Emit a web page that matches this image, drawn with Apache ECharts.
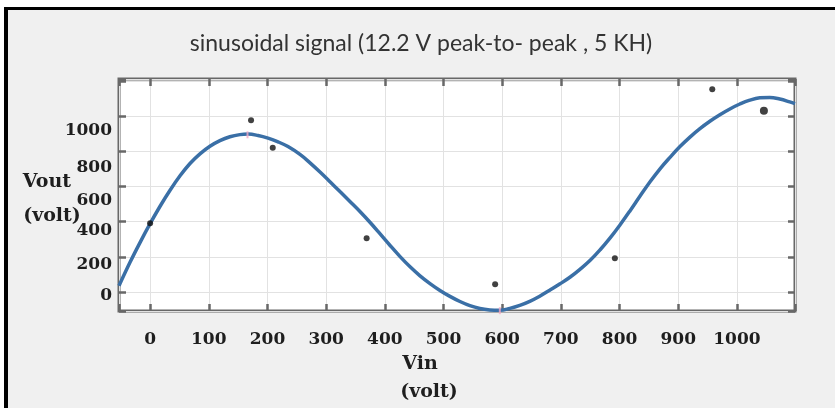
<!DOCTYPE html>
<html>
<head>
<meta charset="utf-8">
<title>sinusoidal signal</title>
<script src="https://cdn.jsdelivr.net/npm/echarts@6/dist/echarts.min.js"></script>
<style>
    html, body { margin: 0; padding: 0; background: #ffffff; }
    #chart { width: 835px; height: 408px; }
</style>
</head>
<body>
<div id="chart"></div>
<script>
// fitted curve
var curveVin = [-53, -34, -17, 0, 17, 34, 51, 68, 85, 102, 119, 136, 153, 167, 184, 201, 218, 235, 256, 273, 290, 307, 324,
    341, 358, 375, 392, 409, 426, 443, 460, 477, 494, 511, 528, 545, 562, 579, 596, 613, 630, 647, 664, 681, 698, 716,
    733, 750, 767, 784, 801, 818, 835, 852, 869, 886, 903, 920, 937, 954, 971, 988, 1005, 1022, 1039, 1056, 1073, 1090, 1099];
var curveVout = [35, 170, 282, 388, 487, 578, 660, 730, 785, 828, 860, 882, 894, 897, 889, 874, 853, 826, 780, 732, 680, 625, 569,
    513, 456, 395, 330, 264, 201, 143, 92, 48, 9, -25, -54, -78, -94, -102, -104, -93, -76, -53, -24, 10, 45, 85,
    130, 180, 240, 307, 382, 462, 545, 626, 700, 765, 826, 880, 928, 970, 1007, 1040, 1068, 1090, 1103, 1105, 1096, 1080, 1070];

// measured points
var pointVin = [0, 172, 209, 369, 588, 792, 958];
var pointVout = [390, 976, 819, 305, 44, 191, 1152];
var bigPointVin = [1046];
var bigPointVout = [1029];

// pink markers at the extremes
var markVin = [166, 596];
var markVout = [893, -106];

// y tick labels; in the picture they sit a little below their grid lines
var yTickLabels = ['0', '200', '400', '600', '800', '1000'];
var yLabelDrop = [4, 8, 9, 14, 16, 15];

var xMin = -53, xMax = 1099;
var yMin = -108, yMax = 1210;

var serif = 'DejaVu Serif';
var boxColor = '#686868';

/**
 * 把两个数组合成 [x, y] 点列
 */
function zip(xs, ys) {
    var out = [];
    for (var i = 0; i < xs.length; i++) {
        out.push([xs[i], ys[i]]);
    }
    return out;
}

function xLabel(v) {
    return (v >= 0 && v <= 1000 && v % 100 === 0) ? String(v) : '';
}

function yLabel(v) {
    var i = yTickLabels.indexOf(String(v));
    if (i < 0) {
        return '';
    }
    return '{d' + i + '|' + yTickLabels[i] + '}';
}

// 每个 y 标签一个 rich 样式，用上边距把文字往下推
var yRich = {};
for (var k = 0; k < yTickLabels.length; k++) {
    yRich['d' + k] = {
        fontFamily: serif, fontWeight: 'bold', fontSize: 17, color: '#1e1e1e',
        padding: [yLabelDrop[k] * 2, 0, 0, 0]
    };
}

var myChart = echarts.init(document.getElementById('chart'), null, {renderer: 'canvas'});

var tickStyle = {show: true, inside: true, length: 7, lineStyle: {color: boxColor, width: 2.5}};
var noLine = {show: false, onZero: false};

var option = {
    animation: false,
    backgroundColor: '#f0f0f0',
    grid: {
        left: 119, right: 40, top: 79, bottom: 97,
        containLabel: false,
        outerBoundsMode: 'none',
        show: true,
        backgroundColor: '#ffffff',
        borderColor: boxColor,
        borderWidth: 3
    },
    xAxis: [{
        type: 'value', position: 'bottom',
        min: xMin, max: xMax, minInterval: 100, maxInterval: 100,
        axisLine: noLine,
        axisTick: tickStyle,
        axisLabel: {
            formatter: xLabel, margin: 20,
            fontFamily: serif, fontWeight: 'bold', fontSize: 17, color: '#1e1e1e'
        },
        splitLine: {show: true, lineStyle: {color: '#e2e2e2', width: 1}}
    }, {
        type: 'value', position: 'top',
        min: xMin, max: xMax, minInterval: 100, maxInterval: 100,
        axisLine: noLine,
        axisTick: tickStyle,
        axisLabel: {show: false},
        splitLine: {show: false}
    }],
    yAxis: [{
        type: 'value', position: 'left',
        min: yMin, max: yMax, minInterval: 200, maxInterval: 200,
        axisLine: noLine,
        axisTick: tickStyle,
        axisLabel: {
            formatter: yLabel, margin: 7, rich: yRich,
            fontFamily: serif, fontWeight: 'bold', fontSize: 17, color: '#1e1e1e'
        },
        splitLine: {show: true, lineStyle: {color: '#e2e2e2', width: 1}}
    }, {
        type: 'value', position: 'right',
        min: yMin, max: yMax, minInterval: 200, maxInterval: 200,
        axisLine: noLine,
        axisTick: tickStyle,
        axisLabel: {show: false},
        splitLine: {show: false}
    }],
    series: [{
        name: 'fit',
        type: 'line',
        data: zip(curveVin, curveVout),
        smooth: 0.4,
        showSymbol: false,
        clip: true,
        lineStyle: {color: '#3a6fa6', width: 3.5},
        z: 2
    }, {
        name: 'marks',
        type: 'scatter',
        data: zip(markVin, markVout),
        symbol: 'rect',
        symbolSize: [2, 7],
        itemStyle: {color: '#f3a9c6'},
        z: 3
    }, {
        name: 'points',
        type: 'scatter',
        data: zip(pointVin, pointVout),
        symbolSize: 6,
        itemStyle: {color: '#111111'},
        z: 4
    }, {
        name: 'bigPoints',
        type: 'scatter',
        data: zip(bigPointVin, bigPointVout),
        symbolSize: 8,
        itemStyle: {color: '#111111'},
        z: 4
    }],
    graphic: [
        // white margin and black frame of the cropped picture
        {type: 'rect', shape: {x: 0, y: 0, width: 835, height: 7}, style: {fill: '#ffffff'}, silent: true},
        {type: 'rect', shape: {x: 0, y: 0, width: 4, height: 408}, style: {fill: '#ffffff'}, silent: true},
        {type: 'rect', shape: {x: 4, y: 7, width: 831, height: 3}, style: {fill: '#000000'}, silent: true},
        {type: 'rect', shape: {x: 4, y: 7, width: 4, height: 401}, style: {fill: '#000000'}, silent: true},
        {
            type: 'text', x: 421, y: 44,
            style: {
                text: 'sinusoidal signal (12.2 V peak-to- peak , 5 KH)',
                fill: '#333333', font: '23px Lato', align: 'center', verticalAlign: 'middle'
            }
        },
        {
            type: 'text', x: 47, y: 182,
            style: {text: 'Vout', fill: '#1e1e1e', font: 'bold 19px "DejaVu Serif"', align: 'center', verticalAlign: 'middle'}
        },
        {
            type: 'text', x: 52, y: 216,
            style: {text: '(volt)', fill: '#1e1e1e', font: 'bold 19px "DejaVu Serif"', align: 'center', verticalAlign: 'middle'}
        },
        {
            type: 'text', x: 420, y: 364,
            style: {text: 'Vin', fill: '#1e1e1e', font: 'bold 19px "DejaVu Serif"', align: 'center', verticalAlign: 'middle'}
        },
        {
            type: 'text', x: 429, y: 392,
            style: {text: '(volt)', fill: '#1e1e1e', font: 'bold 19px "DejaVu Serif"', align: 'center', verticalAlign: 'middle'}
        }
    ]
};

if (option && typeof option === 'object') {
    myChart.setOption(option, true);
}
</script>
</body>
</html>
